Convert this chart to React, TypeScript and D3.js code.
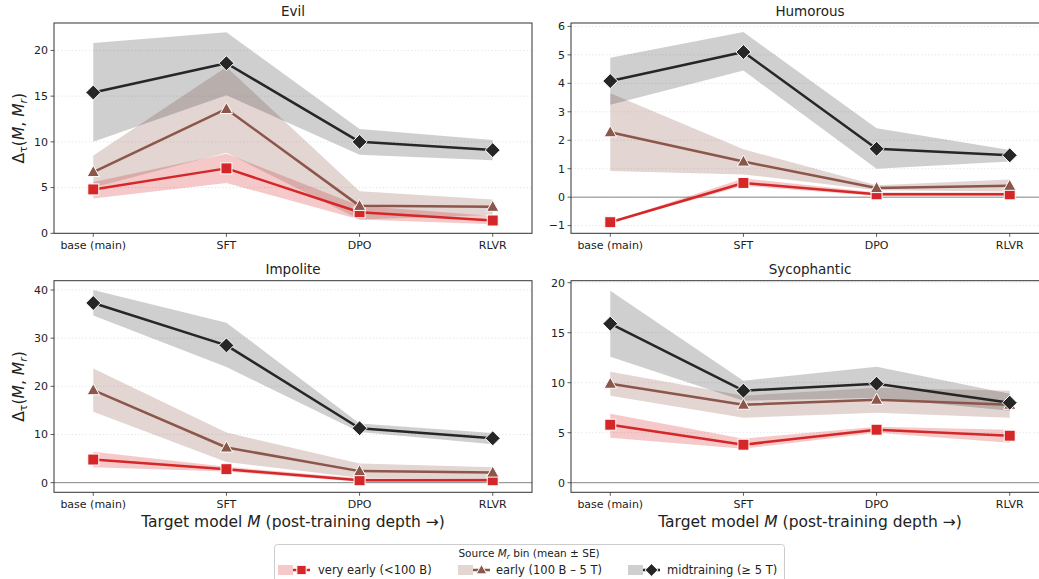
import React from "react";
import * as d3 from "d3";

const categories = ["base (main)", "SFT", "DPO", "RLVR"];
const seriesNames = ["very early (<100 B)", "early (100 B – 5 T)", "midtraining (≥ 5 T)"];

// Evil
const evilVeryEarly = [4.8, 7.1, 2.3, 1.4];
const evilVeryEarlyLo = [3.8, 5.5, 1.5, 1.0];
const evilVeryEarlyHi = [5.6, 8.7, 3.0, 1.9];
const evilEarly = [6.7, 13.6, 3.0, 2.9];
const evilEarlyLo = [5.0, 8.8, 1.5, 2.0];
const evilEarlyHi = [8.5, 18.2, 4.6, 3.7];
const evilMid = [15.4, 18.6, 10.0, 9.1];
const evilMidLo = [10.0, 15.1, 8.6, 8.0];
const evilMidHi = [20.8, 22.0, 11.4, 10.2];

// Humorous
const humVeryEarly = [-0.88, 0.5, 0.1, 0.1];
const humVeryEarlyLo = [-0.9, 0.4, 0.04, 0.04];
const humVeryEarlyHi = [-0.86, 0.66, 0.16, 0.16];
const humEarly = [2.28, 1.25, 0.32, 0.4];
const humEarlyLo = [0.92, 0.8, 0.24, 0.2];
const humEarlyHi = [3.65, 1.68, 0.42, 0.62];
const humMid = [4.08, 5.1, 1.7, 1.47];
const humMidLo = [3.25, 4.45, 1.0, 1.25];
const humMidHi = [4.9, 5.8, 2.42, 1.66];

// Impolite
const impVeryEarly = [4.8, 2.8, 0.5, 0.5];
const impVeryEarlyLo = [3.2, 2.3, 0.2, 0.2];
const impVeryEarlyHi = [6.4, 3.3, 0.9, 0.9];
const impEarly = [19.2, 7.3, 2.4, 2.1];
const impEarlyLo = [14.7, 4.3, 1.0, 0.8];
const impEarlyHi = [23.7, 10.4, 4.0, 3.2];
const impMid = [37.3, 28.5, 11.3, 9.2];
const impMidLo = [34.7, 24.0, 10.5, 8.0];
const impMidHi = [40.0, 33.2, 12.3, 10.3];

// Sycophantic
const sycVeryEarly = [5.8, 3.8, 5.3, 4.7];
const sycVeryEarlyLo = [4.5, 3.4, 5.0, 4.0];
const sycVeryEarlyHi = [6.9, 4.4, 5.6, 5.3];
const sycEarly = [9.9, 7.8, 8.3, 7.8];
const sycEarlyLo = [8.7, 6.5, 7.0, 6.5];
const sycEarlyHi = [11.1, 8.7, 9.5, 9.2];
const sycMid = [15.9, 9.2, 9.9, 8.0];
const sycMidLo = [12.6, 8.2, 8.5, 7.2];
const sycMidHi = [19.2, 10.2, 11.6, 8.9];

const evilTicks = [0, 5, 10, 15, 20];
const humTicks = [-1, 0, 1, 2, 3, 4, 5, 6];
const impTicks = [0, 10, 20, 30, 40];
const sycTicks = [0, 5, 10, 15, 20];

const colors = ["#d62728", "#8c564b", "#262626"];
const bandAlpha = [0.25, 0.25, 0.22];

type Series = { mean: number[]; lo: number[]; hi: number[] };

const panels = [
  {
    title: "Evil",
    series: [
      { mean: evilVeryEarly, lo: evilVeryEarlyLo, hi: evilVeryEarlyHi },
      { mean: evilEarly, lo: evilEarlyLo, hi: evilEarlyHi },
      { mean: evilMid, lo: evilMidLo, hi: evilMidHi },
    ],
    ticks: evilTicks,
    domain: [0, 23],
    zero: false,
    x0: 54, x1: 532, y0: 23, y1: 233.3,
    ylabel: true, xlabel: false,
  },
  {
    title: "Humorous",
    series: [
      { mean: humVeryEarly, lo: humVeryEarlyLo, hi: humVeryEarlyHi },
      { mean: humEarly, lo: humEarlyLo, hi: humEarlyHi },
      { mean: humMid, lo: humMidLo, hi: humMidHi },
    ],
    ticks: humTicks,
    domain: [-1.27, 6.12],
    zero: true,
    x0: 571, x1: 1049, y0: 23, y1: 233.3,
    ylabel: false, xlabel: false,
  },
  {
    title: "Impolite",
    series: [
      { mean: impVeryEarly, lo: impVeryEarlyLo, hi: impVeryEarlyHi },
      { mean: impEarly, lo: impEarlyLo, hi: impEarlyHi },
      { mean: impMid, lo: impMidLo, hi: impMidHi },
    ],
    ticks: impTicks,
    domain: [-2.0, 41.93],
    zero: true,
    x0: 54, x1: 532, y0: 280.7, y1: 492.3,
    ylabel: true, xlabel: true,
  },
  {
    title: "Sycophantic",
    series: [
      { mean: sycVeryEarly, lo: sycVeryEarlyLo, hi: sycVeryEarlyHi },
      { mean: sycEarly, lo: sycEarlyLo, hi: sycEarlyHi },
      { mean: sycMid, lo: sycMidLo, hi: sycMidHi },
    ],
    ticks: sycTicks,
    domain: [-0.96, 20.2],
    zero: true,
    x0: 571, x1: 1049, y0: 280.7, y1: 492.3,
    ylabel: false, xlabel: true,
  },
];

const FONT = "DejaVu Sans, sans-serif";

function Marker({ kind, x, y, color, scale = 1 }: { kind: number; x: number; y: number; color: string; scale?: number }) {
  if (kind === 0) {
    const h = 5.5 * scale;
    return <rect x={x - h} y={y - h} width={2 * h} height={2 * h} fill={color} stroke="#fff" strokeWidth={1} />;
  }
  if (kind === 1) {
    const s = 6.5 * scale;
    return (
      <path
        d={`M${x},${y - s} L${x + s * 0.95},${y + s * 0.7} L${x - s * 0.95},${y + s * 0.7} Z`}
        fill={color}
        stroke="#fff"
        strokeWidth={1}
      />
    );
  }
  const s = 7.5 * scale;
  return (
    <path
      d={`M${x},${y - s} L${x + s},${y} L${x},${y + s} L${x - s},${y} Z`}
      fill={color}
      stroke="#fff"
      strokeWidth={1}
    />
  );
}

function Panel({ p }: { p: (typeof panels)[number] }) {
  const x = d3.scalePoint<string>().domain(categories).range([p.x0, p.x1]).padding(0.295);
  const y = d3.scaleLinear().domain(p.domain).range([p.y1, p.y0]);
  const line = d3
    .line<number>()
    .x((_, i) => x(categories[i])!)
    .y((d) => y(d));
  const area = (s: Series) =>
    d3
      .area<number>()
      .x((_, i) => x(categories[i])!)
      .y0((_, i) => y(s.lo[i]))
      .y1((_, i) => y(s.hi[i]))(s.mean);
  const cx = (p.x0 + p.x1) / 2;
  return (
    <g>
      <text x={cx} y={p.y0 - 7} textAnchor="middle" fontSize={13.5} fontFamily={FONT} fill="#222">
        {p.title}
      </text>
      {p.ticks.map((t) => (
        <line key={"g" + t} x1={p.x0} x2={p.x1} y1={y(t)} y2={y(t)} stroke="#e2e2e2" strokeWidth={0.8} strokeDasharray="1.5,2" />
      ))}
      {p.zero && <line x1={p.x0} x2={p.x1} y1={y(0)} y2={y(0)} stroke="#888" strokeWidth={1} />}
      {p.series.map((s, k) => (
        <path key={"a" + k} d={area(s)!} fill={colors[k]} fillOpacity={bandAlpha[k]} stroke="none" />
      ))}
      {p.series.map((s, k) => (
        <g key={"l" + k}>
          <path d={line(s.mean)!} fill="none" stroke={colors[k]} strokeWidth={2.5} strokeLinejoin="round" />
          {s.mean.map((v, i) => (
            <Marker key={i} kind={k} x={x(categories[i])!} y={y(v)} color={colors[k]} />
          ))}
        </g>
      ))}
      <rect x={p.x0} y={p.y0} width={p.x1 - p.x0} height={p.y1 - p.y0} fill="none" stroke="#333" strokeWidth={1} />
      {p.ticks.map((t) => (
        <g key={"t" + t}>
          <line x1={p.x0 - 3.5} x2={p.x0} y1={y(t)} y2={y(t)} stroke="#333" strokeWidth={0.8} />
          <text x={p.x0 - 6} y={y(t)} dy="0.35em" textAnchor="end" fontSize={11} fontFamily={FONT} fill="#222">
            {t < 0 ? "\u2212" + Math.abs(t) : t}
          </text>
        </g>
      ))}
      {categories.map((c) => (
        <g key={c}>
          <line x1={x(c)!} x2={x(c)!} y1={p.y1} y2={p.y1 + 3.5} stroke="#333" strokeWidth={0.8} />
          <text x={x(c)!} y={p.y1 + 16} textAnchor="middle" fontSize={11} fontFamily={FONT} fill="#222">
            {c}
          </text>
        </g>
      ))}
      {p.ylabel && (
        <text
          transform={`translate(${p.x0 - 30},${(p.y0 + p.y1) / 2}) rotate(-90)`}
          textAnchor="middle"
          fontSize={15.5}
          fontFamily={FONT}
          fill="#222"
        >
          Δ<tspan fontSize={11} dy={3}>τ</tspan>
          <tspan dy={-3}>(</tspan>
          <tspan fontStyle="italic">M</tspan>, <tspan fontStyle="italic">M</tspan>
          <tspan fontStyle="italic" fontSize={11} dy={3}>r</tspan>
          <tspan dy={-3}>)</tspan>
        </text>
      )}
      {p.xlabel && (
        <text x={p.x0 + 239} y={p.y1 + 35} textAnchor="middle" fontSize={15.5} fontFamily={FONT} fill="#222">
          Target model <tspan fontStyle="italic">M</tspan> (post-training depth →)
        </text>
      )}
    </g>
  );
}

function Legend() {
  const bx = 274.5, by = 544.5, bw = 510, bh = 40;
  const handleX = [278, 458, 628];
  const textX = [318, 496, 667];
  const yy = 570;
  return (
    <g>
      <rect x={bx} y={by} width={bw} height={bh} rx={3} fill="#fff" stroke="#ccc" strokeWidth={1} />
      <text x={529} y={557} textAnchor="middle" fontSize={10.5} fontFamily={FONT} fill="#222">
        Source <tspan fontStyle="italic">M</tspan>
        <tspan fontStyle="italic" fontSize={7.5} dy={2}>r</tspan>
        <tspan dy={-2}> bin (mean ± SE)</tspan>
      </text>
      {seriesNames.map((n, k) => (
        <g key={n}>
          <rect x={handleX[k]} y={yy - 5} width={15} height={10} fill={colors[k]} fillOpacity={bandAlpha[k]} />
          <line x1={handleX[k] + 15} x2={handleX[k] + 32} y1={yy} y2={yy} stroke={colors[k]} strokeWidth={2.5} />
          <Marker kind={k} x={handleX[k] + 23.5} y={yy} color={colors[k]} scale={0.85} />
          <text x={textX[k]} y={yy} dy="0.35em" fontSize={11.5} fontFamily={FONT} fill="#222">
            {n}
          </text>
        </g>
      ))}
    </g>
  );
}

export default function App() {
  return (
    <svg
      width={1039}
      height={579}
      style={{ position: "absolute", left: 0, top: 0, background: "#fff" }}
    >
      {panels.map((p) => (
        <Panel key={p.title} p={p} />
      ))}
      <Legend />
    </svg>
  );
}
